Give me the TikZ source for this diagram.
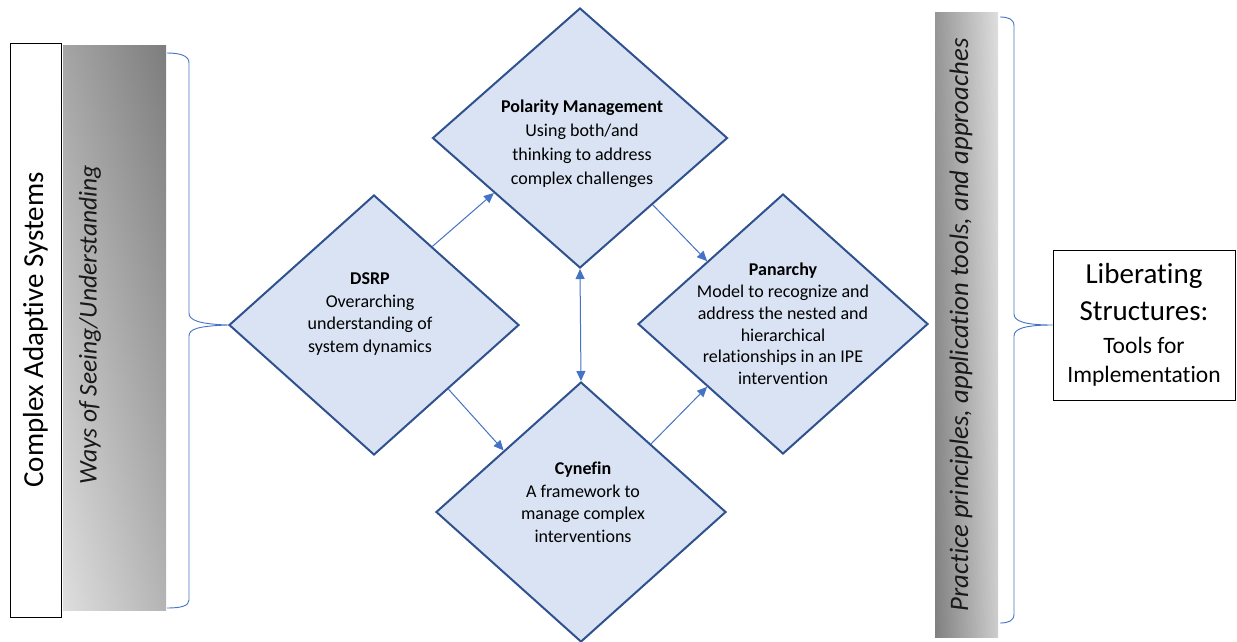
\documentclass[tikz,border=0pt]{standalone}
\usepackage{fontspec}
\setmainfont{Carlito}[Ligatures=NoCommon]
\usetikzlibrary{shapes.geometric,arrows.meta,calc,shadings}
\definecolor{diafill}{HTML}{DAE3F3}
\definecolor{diaedge}{HTML}{2F528F}
\definecolor{accent}{HTML}{4472C4}
\definecolor{gA}{HTML}{DEDEDE}
\definecolor{gB}{HTML}{7D7D7D}
\definecolor{gC}{HTML}{A5A5A5}
\definecolor{gD}{HTML}{B4B4B4}
\definecolor{hA}{HTML}{808080}
\definecolor{hB}{HTML}{969696}
\definecolor{hC}{HTML}{DEDEDE}
\definecolor{hD}{HTML}{CDCDCD}
\begin{document}
\begin{tikzpicture}[x=1pt,y=-1pt,
  diabox/.style={diamond, draw=diaedge, fill=diafill, line width=2pt,
    inner sep=0pt, minimum width=290pt, minimum height=260pt},
  diatext/.style={align=center, inner sep=0pt, font=\fontsize{18}{22.5}\selectfont},
  conn/.style={draw=accent, line width=1pt, -{Triangle[length=10pt,width=9pt]}},
  biconn/.style={draw=accent, line width=1pt,
    {Triangle[length=10pt,width=9pt]}-{Triangle[length=10pt,width=9pt]}},
  brace/.style={draw=accent, line width=0.9pt},
  plainbox/.style={draw=black, line width=1pt, fill=white, inner sep=0pt}
]
\useasboundingbox (0,0) rectangle (1237,641);

% left column: title box and shaded band
\node[plainbox, rotate=90, minimum width=574pt, minimum height=51pt,
  font=\fontsize{29}{35}\selectfont] (cas) at (35.5,330) {Complex Adaptive Systems};
\shade[lower left=gA, upper right=gB, upper left=gC, lower right=gD]
  (63,45) rectangle (166,610);
\node[rotate=90, inner sep=0pt, font=\fontsize{25.5}{30}\selectfont\itshape, text=black!90]
  (ways) at (90,325) {Ways of Seeing/Understanding};

% diamonds
\node[diabox, minimum width=295pt] (pol) at (580,138) {};
\node[diabox] (dsrp) at (374,325) {};
\node[diabox] (pan) at (783,324) {};
\node[diabox] (cyn) at (581,512) {};

\node[diatext, font=\fontsize{18}{24}\selectfont] (polT) at (582,144)
  {\textbf{Polarity Management}\\Using both/and\\thinking to address\\complex challenges};
\node[diatext] (dsrpT) at (370,314)
  {\textbf{DSRP}\\Overarching\\understanding of\\system dynamics};
\node[diatext, font=\fontsize{18}{21.8}\selectfont] (panT) at (783,324)
  {\textbf{Panarchy}\\Model to recognize and\\address the nested and\\hierarchical\\relationships in an IPE\\intervention};
\node[diatext] (cynT) at (583,502)
  {\textbf{Cynefin}\\A framework to\\manage complex\\interventions};

% connectors between the diamonds
\draw[conn] ($(dsrp.north)!0.40!(dsrp.east)$) -- ($(pol.west)!0.42!(pol.south)$);
\draw[conn] ($(pol.south)!0.49!(pol.east)$) -- ($(pan.west)!0.48!(pan.north)$);
\draw[conn] ($(dsrp.east)!0.49!(dsrp.south)$) -- ($(cyn.west)!0.47!(cyn.north)$);
\draw[conn] ($(cyn.north)!0.48!(cyn.east)$) -- ($(pan.south)!0.52!(pan.west)$);
\draw[biconn] (pol.south) -- (cyn.north);

% left brace pointing at DSRP
\draw[brace] (167,53) .. controls (181,53) and (189,56) .. (189,63)
  -- (189,313) .. controls (189,320) and (198,324) .. (dsrp.west)
  .. controls (198,326) and (189,329) .. (189,336)
  -- (189,600) .. controls (189,606) and (181,608) .. (167,608);

% right column: shaded band
\shade[lower left=hA, upper left=hB, upper right=hC, lower right=hD]
  (935,12) rectangle (998,637);
\node[rotate=90, inner sep=0pt, font=\fontsize{26.7}{30}\selectfont\itshape, text=black!90]
  (prac) at (961,325) {Practice principles, application tools, and approaches};

% right box
\node[plainbox, minimum width=182pt, minimum height=150pt, align=center,
  font=\fontsize{29}{37}\selectfont] (lib) at (1144,325)
  {Liberating\\Structures:\\[-4pt]{\fontsize{23.5}{29}\selectfont Tools for}\\[-8pt]{\fontsize{23.5}{29}\selectfont Implementation}};

% right brace pointing at the box
\draw[brace] (1000,17) .. controls (1008,17) and (1014,19) .. (1014,26)
  -- (1014,314) .. controls (1014,321) and (1024,325) .. (lib.west)
  .. controls (1024,325) and (1014,329) .. (1014,336)
  -- (1014,614) .. controls (1014,621) and (1008,623) .. (1000,623);
\end{tikzpicture}
\end{document}
